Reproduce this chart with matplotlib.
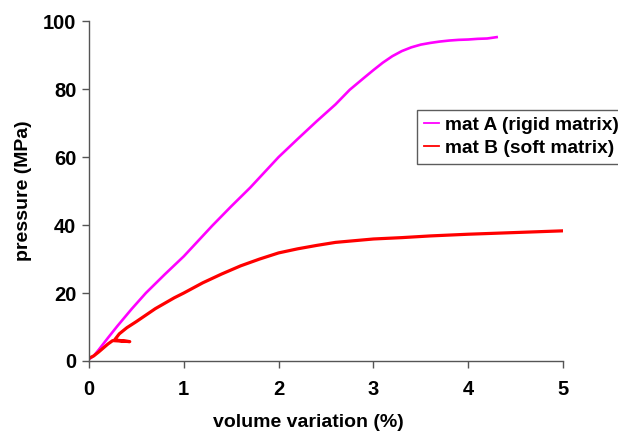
import matplotlib.pyplot as plt

plt.rcParams['font.family'] = ['Liberation Sans', 'DejaVu Sans']
plt.rcParams['font.weight'] = 'bold'

# mat A (rigid matrix)
vol_a = [0.0, 0.05, 0.1, 0.2, 0.3, 0.45, 0.6, 0.8, 1.0, 1.15, 1.3, 1.5,
         1.7, 1.85, 2.0, 2.2, 2.4, 2.6, 2.75, 2.9, 3.0, 3.1, 3.2, 3.3,
         3.4, 3.5, 3.6, 3.7, 3.8, 3.9, 4.0, 4.1, 4.2, 4.3]
pres_a = [0.5, 1.5, 3.2, 6.8, 10.3, 15.3, 20.0, 25.5, 30.8, 35.3, 39.8, 45.5,
          51.0, 55.5, 60.0, 65.3, 70.5, 75.5, 79.8, 83.3, 85.6, 87.8, 89.7, 91.2,
          92.3, 93.1, 93.6, 94.0, 94.3, 94.5, 94.6, 94.8, 94.9, 95.3]

# mat B (soft matrix), with the short unloading step near 0.3 %
vol_b = [0.0, 0.05, 0.1, 0.15, 0.2, 0.25, 0.43, 0.27, 0.32, 0.4, 0.5, 0.6,
         0.7, 0.8, 0.9, 1.0, 1.2, 1.4, 1.6, 1.8, 2.0, 2.2, 2.4, 2.6,
         2.8, 3.0, 3.3, 3.6, 4.0, 4.4, 4.7, 5.0]
pres_b = [0.8, 1.5, 2.6, 3.8, 5.0, 6.0, 5.7, 6.2, 8.0, 9.8, 11.6, 13.5,
          15.4, 17.0, 18.6, 20.0, 23.0, 25.6, 28.0, 30.0, 31.8, 33.0, 34.0, 34.9,
          35.4, 35.9, 36.3, 36.8, 37.3, 37.7, 38.0, 38.3]

fig = plt.figure(figsize=(6.18, 4.32), dpi=100)
ax = fig.add_axes([0.144, 0.1644, 0.767, 0.7866])

ax.plot(vol_a, pres_a, color='#FF00FF', lw=1.9, label='mat A (rigid matrix)')
ax.plot(vol_b, pres_b, color='#FF0000', lw=2.3, label='mat B (soft matrix)')

ax.set_xlim(0, 5)
ax.set_ylim(0, 100)
ax.set_xticks(range(0, 6))
ax.set_yticks(range(0, 101, 20))
for side in ('top', 'right'):
    ax.spines[side].set_visible(False)
for side in ('left', 'bottom'):
    ax.spines[side].set_color('#555555')
    ax.spines[side].set_linewidth(1.0)
ax.tick_params(direction='out', length=5, width=1, color='#555555',
               labelsize=14.5, pad=4)
ax.tick_params(axis='x', pad=9)

ax.set_xlabel('volume variation (%)', fontsize=14, fontweight='bold')
ax.set_ylabel('pressure (MPa)', fontsize=14, fontweight='bold')
ax.xaxis.set_label_coords(0.462, -0.157)
ax.yaxis.set_label_coords(-0.12, 0.5)

leg = fig.legend(loc='upper left', bbox_to_anchor=(417 / 618, 1 - 110 / 432),
                 fontsize=13.8, frameon=True, fancybox=False, handlelength=0.8,
                 handletextpad=0.3, borderpad=0.35, labelspacing=0.28,
                 borderaxespad=0)
leg.get_frame().set_edgecolor('#333333')
leg.get_frame().set_linewidth(1.0)
for line in leg.get_lines():
    line.set_linewidth(1.3)

fig.savefig('out.png', dpi=100)
